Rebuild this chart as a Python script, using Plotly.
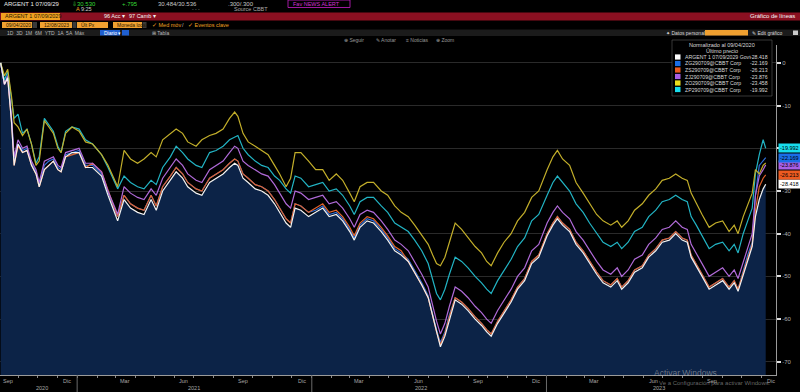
import plotly.graph_objects as go

# ---------------- data ----------------
dates = ["2020-09-04","2020-09-10","2020-09-15","2020-09-21","2020-09-25","2020-10-01","2020-10-08","2020-10-15","2020-10-22","2020-10-29",
"2020-11-03","2020-11-11","2020-11-18","2020-11-25","2020-12-02","2020-12-07","2020-12-14","2020-12-24","2021-01-04","2021-01-14",
"2021-01-25","2021-02-08","2021-02-18","2021-03-01","2021-03-05","2021-03-15","2021-03-25","2021-04-05","2021-04-15","2021-04-26",
"2021-05-04","2021-05-14","2021-05-26","2021-06-04","2021-06-14","2021-06-22","2021-07-05","2021-07-14","2021-07-26","2021-08-05",
"2021-08-16","2021-08-26","2021-09-03","2021-09-08","2021-09-16","2021-09-24","2021-10-05","2021-10-15","2021-10-25","2021-11-04",
"2021-11-12","2021-11-22","2021-11-29","2021-12-06","2021-12-15","2021-12-27","2022-01-07","2022-01-18","2022-01-28","2022-02-08",
"2022-02-18","2022-03-01","2022-03-08","2022-03-17","2022-03-28","2022-04-07","2022-04-19","2022-04-29","2022-05-10","2022-05-20",
"2022-05-31","2022-06-10","2022-06-21","2022-07-01","2022-07-08","2022-07-14","2022-07-20","2022-07-27","2022-08-03","2022-08-12",
"2022-08-22","2022-09-01","2022-09-12","2022-09-22","2022-09-30","2022-10-07","2022-10-17","2022-10-27","2022-11-07","2022-11-17",
"2022-11-28","2022-12-09","2022-12-20","2023-01-02","2023-01-11","2023-01-18","2023-01-26","2023-02-06","2023-02-16","2023-02-27",
"2023-03-09","2023-03-20","2023-03-30","2023-04-11","2023-04-21","2023-04-28","2023-05-08","2023-05-18","2023-05-30","2023-06-09",
"2023-06-20","2023-06-30","2023-07-11","2023-07-21","2023-07-31","2023-08-08","2023-08-14","2023-08-22","2023-08-31","2023-09-11",
"2023-09-21","2023-10-02","2023-10-12","2023-10-20","2023-10-26","2023-11-03","2023-11-10","2023-11-17","2023-11-22","2023-11-28",
"2023-12-04","2023-12-08"]

argent29 = [0, -5, -3.5, -14, -24, -19, -21, -20.5, -24, -26,
-29, -25, -24, -23, -25, -25.5, -22, -21, -21, -24.5,
-24.5, -26.5, -31, -35.5, -37, -32, -34, -35, -35.5, -32,
-34.5, -30, -27.5, -25.5, -27, -29, -30.5, -31, -28, -27,
-26, -24.5, -23.5, -24, -27, -28, -29.5, -30, -31, -33,
-35, -37.5, -38.5, -34, -34.5, -36, -35, -34, -36, -35.5,
-37, -39.5, -41.5, -38.5, -37, -37.5, -39.5, -41.5, -44, -45,
-46.5, -49, -52, -55, -59.5, -63, -66.5, -64, -60, -55.5,
-56.5, -58, -60, -61.5, -63, -64, -61, -58.5, -56, -53,
-51, -47, -45.5, -40.5, -38, -36.5, -38, -39.5, -42.5, -44.5,
-47, -49.5, -51.5, -52.5, -51, -53, -51.5, -49, -48, -45.5,
-44, -42, -41.5, -40, -41.5, -42, -45.5, -47.5, -50, -53,
-52, -51, -53, -51.5, -53.5, -49.5, -46, -43, -36, -32,
-29.5, -28.418]

serie_blue = [0, -5, -3, -13, -23, -19, -20.5, -20, -23.5, -25.5,
-28.5, -24, -23, -22.5, -24.5, -25, -21.5, -21, -20.5, -24,
-24, -26, -30.5, -35, -36, -31, -33, -34, -34.5, -31,
-33.5, -29, -26.5, -24.5, -26, -28, -29.5, -30, -27, -26,
-25, -23.5, -22.5, -23, -26, -27, -28.5, -29, -30, -32,
-34, -36.5, -37.5, -33, -33.5, -35, -34.5, -33.5, -35.5, -35,
-36.5, -39, -41, -38, -36.5, -37, -39, -41, -43.5, -44.5,
-46, -48.5, -51.5, -54.5, -59, -62.5, -65.5, -63, -59, -55,
-56, -57.5, -59.5, -61, -62.5, -63.5, -60.5, -58, -55.5, -52.5,
-50.5, -46.5, -45, -40, -37.5, -36, -37.5, -39, -42, -44,
-46.5, -49, -51, -52, -50.5, -52.5, -51, -48.5, -47.5, -45,
-43.5, -41.5, -41, -39.5, -41, -41.5, -45, -47, -49.5, -52.5,
-51.5, -50.5, -52.5, -51, -53, -48.5, -45, -42, -31, -24,
-23, -22.169]

serie_orange = [0, -5, -3.5, -14, -24, -19.5, -21, -20.5, -24, -26,
-29, -25, -24, -23, -25, -25.5, -22, -21.5, -21, -24.5,
-23.5, -25.5, -30, -34.5, -36, -31, -33, -34, -34.5, -31,
-33.5, -29, -26.5, -24.5, -26, -28, -29.5, -30, -27, -26,
-25, -23.5, -22.5, -23, -26, -27, -28.5, -29, -30, -32,
-34, -36.5, -37.5, -33, -33.5, -35, -34, -33, -35, -34.5,
-36, -38.5, -40.5, -37.5, -36, -36.5, -38.5, -40.5, -43, -44,
-46.5, -49, -52, -55, -59.5, -63, -66, -63.5, -59.5, -55,
-56, -57.5, -59.5, -61, -62.5, -63.5, -60.5, -58, -55.5, -52.5,
-50.5, -46.5, -45, -40, -37.5, -36, -37.5, -39, -42, -44,
-46.5, -49, -51, -52, -50.5, -52.5, -51, -48.5, -47.5, -45,
-43.5, -41.5, -41, -39.5, -41, -41.5, -45, -47, -49.5, -52.5,
-51.5, -50.5, -52.5, -51, -53, -49, -45.5, -42.5, -34.5, -29,
-27, -26.213]

serie_purple = [0, -5, -3, -13, -22, -18, -20, -19.5, -23, -25,
-28, -23, -22.5, -22, -24, -24.5, -21, -20.5, -20, -23.5,
-23.5, -25.5, -30, -34, -35.5, -29, -30.5, -31.5, -32, -29.5,
-31, -27, -24.5, -22.5, -24, -26, -27.5, -28, -25, -24,
-23, -21, -19.5, -20, -23, -24, -25, -26, -26.5, -28.5,
-30.5, -33, -34, -30, -30.5, -32, -31.5, -31, -33, -32.5,
-34, -36.5, -38.5, -35.5, -34.5, -35, -37, -39, -41.5, -42.5,
-44, -46.5, -49.5, -52.5, -57, -60.5, -63.5, -61, -57, -52.5,
-53.5, -55, -57, -58.5, -60, -61, -58, -55.5, -53, -50,
-48, -44, -42.5, -37.5, -35, -33.5, -35, -36.5, -39.5, -41.5,
-44, -46.5, -48.5, -49.5, -48, -50, -48.5, -46, -45, -42.5,
-41, -39, -38.5, -37, -38.5, -39, -42.5, -44.5, -47, -50,
-49, -48, -50, -48.5, -50.5, -46.5, -43, -40, -31, -26.5,
-25, -23.876]

serie_yellow = [0, -3, -1.5, -8, -14, -15, -17, -15.5, -19, -24,
-23, -13.5, -15, -16.5, -20, -21, -16.5, -15, -16, -18.5,
-19, -21.5, -24, -28, -29, -20.5, -22.5, -23.5, -22.5, -21,
-22, -18, -16.5, -15.5, -16.5, -18.5, -19.5, -18, -17, -16.5,
-15.5, -13, -11.5, -12.5, -16.5, -18.5, -19.5, -20.5, -21.5, -24,
-26, -29, -27, -21, -21, -23, -25, -25, -27.5, -26,
-27.5, -30.5, -32.5, -29, -28, -28, -30, -31, -33.5, -35,
-36, -38, -40.5, -42.5, -45, -47, -47.5, -45.5, -42, -37.5,
-39, -41, -43, -44.5, -46.5, -47.5, -44.5, -42, -40, -37,
-35, -31.5, -30, -25, -22, -20.5, -22.5, -24, -28, -30.5,
-33, -35.5, -37, -38, -37, -38.5, -37, -34.5, -33, -31,
-29.5, -27.5, -27, -26, -27, -27.5, -30.5, -33, -35.5, -38.5,
-37.5, -37, -39.5, -38, -40, -36, -33, -30.5, -25, -26,
-24, -23.458]

serie_cyan = [0, -4, -2, -9, -13, -12, -16.5, -15.5, -19, -23.5,
-22, -13, -14.5, -16, -19.5, -21, -16, -15, -15.5, -18,
-19, -21.5, -24.5, -28, -29.5, -26.5, -28, -29, -29.5, -27.5,
-28.5, -24.5, -22, -19.5, -21, -22.5, -24, -24.5, -21, -20.5,
-19.5, -18, -17.5, -17, -20, -21.5, -23, -24, -24.5, -26.5,
-27.5, -29.5, -30.5, -26.5, -27, -29, -28.5, -28, -30, -29.5,
-31, -33.5, -35.5, -32.5, -31.5, -31.5, -33.5, -35, -37.5, -38.5,
-39.5, -41.5, -44, -47, -51, -54, -55.5, -53, -49.5, -45.5,
-46.5, -48, -50, -51.5, -53, -54, -51, -48.5, -46, -43,
-41, -37, -35.5, -31, -28, -26.5, -28, -30, -33, -35,
-37.5, -40, -42, -43, -42, -43.5, -42, -39.5, -38.5, -36,
-34.5, -32.5, -32, -31, -32, -32.5, -36, -38, -40.5, -43.5,
-42.5, -42, -44, -42.5, -44.5, -40, -37, -34, -26, -21.5,
-18, -19.992]

series_names = ["ARGENT 1 07/09/2029 Govt", "ZG290709@CBBT Corp", "ZS290709@CBBT Corp",
                "ZJ290709@CBBT Corp", "ZO290709@CBBT Corp", "ZP290709@CBBT Corp"]
y_tick_values = [0, -10, -20, -30, -40, -50, -60, -70]
month_names = {9: "Sep", 12: "Dic", 3: "Mar", 6: "Jun"}
year_labels = ["2020", "2021", "2022", "2023"]

series = [argent29, serie_blue, serie_orange, serie_purple, serie_yellow, serie_cyan]
for s in series:
    assert len(s) == len(dates)

# ---------------- styling ----------------
line_colors = ["#f2f2f2", "#2f6fd8", "#e0622c", "#b06ad8", "#c2ae2a", "#22b4c4"]
key_colors = ["#ffffff", "#1a6ee6", "#ec5a20", "#a85fe6", "#ecdf1c", "#18dcec"]
FONT = "Liberation Sans, Arial, sans-serif"

W_PLOT, TOP, BOT = 776, 45, 375
def PX(x): return x / W_PLOT
def PY(y): return (BOT - y) / (BOT - TOP)

Y_MIN, Y_MAX = -73.1, 4.2

fig = go.Figure()
# navy area under ARGENT 29 line
fig.add_trace(go.Scatter(x=dates, y=[Y_MIN] * len(dates), mode="lines",
                         line=dict(width=0, color="rgba(0,0,0,0)"), hoverinfo="skip", showlegend=False))
fig.add_trace(go.Scatter(x=dates, y=argent29, mode="lines", line=dict(width=0, color="rgba(0,0,0,0)"),
                         fill="tonexty", fillcolor="#0c2347", hoverinfo="skip", showlegend=False))

draw_order = [1, 2, 3, 5, 4, 0]
for i in draw_order:
    fig.add_trace(go.Scatter(x=dates, y=series[i], mode="lines", name=series_names[i],
                             line=dict(color=line_colors[i], width=1.2), showlegend=False))

shapes = []
annotations = []

def rect(x0, x1, y0, y1, fill, line=None, lw=0.6):
    shapes.append(dict(type="rect", xref="paper", yref="paper", x0=PX(x0), x1=PX(x1),
                       y0=PY(y1), y1=PY(y0), fillcolor=fill, layer="above",
                       line=dict(color=line if line else fill, width=lw if line else 0)))

def txt(x, y, s, color="#cccccc", size=6, anchor="left"):
    annotations.append(dict(x=PX(x), y=PY(y), xref="paper", yref="paper", text=s, showarrow=False,
                            xanchor=anchor, yanchor="middle", font=dict(color=color, size=size, family=FONT)))

# ---- header row 1 ----
txt(2, 3.5, "ARGENT 1 07/09/29", "#e8e8e8", 6)
txt(70, 3.5, "⇩30.530", "#36d636", 6)
txt(120, 3.5, "+.795", "#36d636", 6)
txt(156, 3.5, "30.484/30.536", "#c8c8c8", 6)
txt(226, 3.5, ".300/.300", "#c8c8c8", 6)
rect(288, 350, 0, 7.5, "#000000", "#c81ec8", 0.8)
txt(291, 3.7, "Fav NEWS ALERT", "#d030d0", 5.5)
txt(74, 9, "<span style='color:#f0a020'>A</span> 9:25", "#d0d0d0", 5.5)
txt(190, 9, "- - -", "#888888", 5)
txt(232, 9, "Source CBBT", "#a8a8a8", 5.5)

# ---- red bar ----
rect(0, 800, 12.5, 20.5, "#8a1021")
rect(1, 60, 13, 20, "#f0a020")
txt(3, 16.5, "ARGENT 1 07/09/2029", "#2a1a00", 5.5)
txt(102, 16.5, "96 Acc ▾", "#f0f0f0", 5.5)
txt(127, 16.5, "97 Camb ▾", "#f0f0f0", 5.5)
txt(797, 16.5, "Gráfico de líneas", "#f4f4f4", 6, "right")

# ---- row 3 (orange fields) ----
for (a, b, s) in [(2, 32, "09/04/2020"), (40, 72, "12/08/2023"), (77, 108, "Últ Px"), (113, 142, "Moneda local")]:
    rect(a, b, 22, 28, "#f0a030")
    txt(a + 2, 25, s, "#2a1a00", 5)
for (a, b) in [(32.5, 37), (72.5, 76.5), (142.5, 146.5)]:
    rect(a, b, 22, 28, "#3a3a3a")
txt(150, 25, "✓ Med móv", "#f0a020", 5.5)
txt(180, 25, "/", "#bbbbbb", 5.5)
txt(186, 25, "✓ Eventos clave", "#f0a020", 5.5)

# ---- row 4 ----
rect(0, 800, 29.5, 36, "#1b1b1b")
txt(5, 32.7, "1D  3D  1M  6M  YTD  1A  5A  Máx", "#b8b8b8", 5)
rect(100, 120, 30, 35.5, "#1f5fd0")
txt(102, 32.7, "Diario ▾", "#ffffff", 5)
rect(122, 129, 30, 35.5, "#1f5fd0")
txt(150, 32.7, "⊞ Tabla", "#b8b8b8", 5)
txt(664, 32.7, "✦ Datos personal", "#d8d8d8", 5)
rect(705, 748, 30, 35.5, "#f0a030")
txt(750, 32.7, "✎ Edit gráfico", "#d8d8d8", 5)
rect(793, 798, 30.5, 35, "#cccccc")

# ---- row 5 ----
txt(342, 40, "⊕ Seguir", "#9a9a9a", 5)
txt(374, 40, "✎ Anotar", "#9a9a9a", 5)
txt(404, 40, "≡ Noticias", "#9a9a9a", 5)
txt(434, 40, "⊕ Zoom", "#9a9a9a", 5)

# ---- legend box ----
rect(672, 772, 40, 96, "#000000", "#5a5a5a", 0.6)
txt(722, 44.5, "Normalizado al 09/04/2020", "#d8d8d8", 5.5, "center")
txt(722, 50.5, "Último precio", "#d8d8d8", 5.5, "center")
ys = [57, 63.5, 70, 76.5, 83, 89.5]
for i in range(6):
    y = ys[i]
    rect(675, 680.5, y - 2.6, y + 2.6, key_colors[i])
    txt(683, y, series_names[i], "#d8d8d8", 5.2)
    txt(770, y, f"{series[i][-1]:.3f}", "#d8d8d8", 5.2, "right")

# ---- last value tags on right axis (yellow tag sits hidden under purple in the original) ----
for i in [0, 2, 3, 1, 5]:
    annotations.append(dict(x=PX(778), y=series[i][-1], xref="paper", yref="y",
                            text=f"{series[i][-1]:.3f}", showarrow=False, xanchor="left", yanchor="middle",
                            bgcolor=key_colors[i], borderpad=1,
                            font=dict(color="#000000", size=5.5, family=FONT)))

# ---- x axis month labels & year labels ----
for yr in range(2020, 2024):
    for m in (3, 6, 9, 12):
        d = f"{yr}-{m:02d}-16"
        if "2020-09-01" <= d <= "2023-12-20":
            annotations.append(dict(x=d, y=PY(380.5), xref="x", yref="paper", text=month_names[m],
                                    showarrow=False, xanchor="center", yanchor="middle",
                                    font=dict(color="#a8a8a8", size=5.5, family=FONT)))
year_pos = ["2020-11-08", "2021-07-01", "2022-06-20", "2023-06-25"]
for lab, pos in zip(year_labels, year_pos):
    annotations.append(dict(x=pos, y=PY(388), xref="x", yref="paper", text=lab, showarrow=False,
                            xanchor="center", yanchor="middle",
                            font=dict(color="#a8a8a8", size=5.5, family=FONT)))
for yr in (2021, 2022, 2023):
    shapes.append(dict(type="line", xref="x", yref="paper", x0=f"{yr}-01-01", x1=f"{yr}-01-01",
                       y0=PY(392), y1=PY(375), line=dict(color="#6a6a6a", width=1)))

# ---- windows watermark ----
txt(652, 372.5, "Activar Windows", "rgba(190,190,190,0.55)", 8.5)
txt(657, 383, "Ve a Configuración para activar Windows.", "rgba(190,190,190,0.55)", 6)

fig.update_layout(
    width=800, height=392, autosize=False,
    margin=dict(l=0, r=800 - W_PLOT, t=TOP, b=392 - BOT, pad=0),
    paper_bgcolor="#000000", plot_bgcolor="#000000",
    font=dict(family=FONT, color="#bbbbbb", size=6),
    showlegend=False, shapes=shapes, annotations=annotations,
    xaxis=dict(type="date", range=["2020-09-03", "2023-12-24"], showgrid=False, zeroline=False,
               showticklabels=False, ticks="outside", ticklen=2, tickcolor="#8a8a8a",
               dtick="M1", tick0="2020-09-01", showline=True, linecolor="#9a9a9a", linewidth=1,
               minor=dict(dtick="M3", tick0="2020-10-01", showgrid=True, gridcolor="#2a2a2a",
                          gridwidth=1, ticks="")),
    yaxis=dict(side="right", range=[Y_MIN, Y_MAX], tickvals=y_tick_values,
               ticktext=[str(v) for v in y_tick_values], ticks="outside", ticklen=4, tickwidth=2,
               tickcolor="#e0e0e0", tickfont=dict(size=6, color="#b0b0b0", family=FONT),
               ticklabeloverflow="allow",
               showgrid=True, gridcolor="#2a2a2a", gridwidth=1, zeroline=False,
               showline=True, linecolor="#9a9a9a", linewidth=1),
)

fig.write_html("out.html", config={"displayModeBar": False},
               post_script="document.body.style.margin='0px';document.body.style.background='#000000';")
